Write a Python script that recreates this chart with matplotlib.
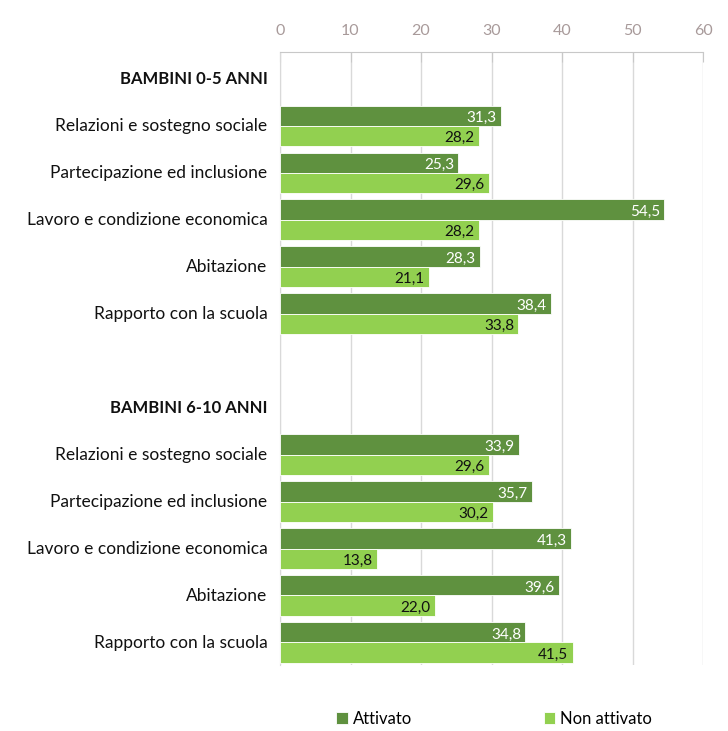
import matplotlib
matplotlib.use("Agg")
import matplotlib.pyplot as plt
import numpy as np

plt.rcParams['font.family'] = ['Lato', 'DejaVu Sans']

groups = ["BAMBINI 0-5 ANNI", "BAMBINI 6-10 ANNI"]
categories = [
    "Relazioni e sostegno sociale",
    "Partecipazione ed inclusione",
    "Lavoro e condizione economica",
    "Abitazione",
    "Rapporto con la scuola",
]
attivato_0_5 = [31.3, 25.3, 54.5, 28.3, 38.4]
non_attivato_0_5 = [28.2, 29.6, 28.2, 21.1, 33.8]
attivato_6_10 = [33.9, 35.7, 41.3, 39.6, 34.8]
non_attivato_6_10 = [29.6, 30.2, 13.8, 22.0, 41.5]
series_names = ["Attivato", "Non attivato"]
x_ticks = [0, 10, 20, 30, 40, 50, 60]

dark = "#5F913F"
light = "#92D050"

fig = plt.figure(figsize=(7.28, 7.31), dpi=100)
ax = fig.add_axes([280 / 728, 1 - 665 / 731, (703 - 280) / 728, (665 - 52) / 731])

# row layout: header, 5 categories, blank row, header, 5 categories
labels = []
rows_att, rows_non, rows_pos = [], [], []
pos = 0
for g, (att, non) in enumerate([(attivato_0_5, non_attivato_0_5),
                                 (attivato_6_10, non_attivato_6_10)]):
    labels.append((pos, groups[g], True))
    pos += 1
    for c, a, n in zip(categories, att, non):
        labels.append((pos, c, False))
        rows_pos.append(pos)
        rows_att.append(a)
        rows_non.append(n)
        pos += 1
    pos += 1

rows_pos = np.array(rows_pos, dtype=float)
h = 0.43
off = 0.02
ax.barh(rows_pos - h / 2 + off, rows_att, height=h, color=dark,
        edgecolor="white", linewidth=0.6, zorder=3, label=series_names[0])
ax.barh(rows_pos + h / 2 + off, rows_non, height=h, color=light,
        edgecolor="white", linewidth=0.6, zorder=3, label=series_names[1])

def fmt(v):
    return f"{v:.1f}".replace(".", ",")

for y, a, n in zip(rows_pos, rows_att, rows_non):
    ax.text(a - 0.6, y - h / 2 + off + 0.05, fmt(a), ha="right", va="center",
            color="white", fontsize=11, zorder=4)
    ax.text(n - 0.6, y + h / 2 + off + 0.05, fmt(n), ha="right", va="center",
            color="#111111", fontsize=11, zorder=4)

ax.set_xlim(0, 60)
ax.set_ylim(12.5, -0.55)
ax.set_yticks([p for p, _, _ in labels])
ax.set_yticklabels([t for _, t, _ in labels])
for tl, (_, _, bold) in zip(ax.get_yticklabels(), labels):
    tl.set_fontsize(12.5)
    tl.set_color("#111111")
    if bold:
        tl.set_fontweight("bold")
        tl.set_fontsize(12)
ax.tick_params(axis="y", length=0, pad=9)

ax.xaxis.tick_top()
ax.set_xticks(x_ticks)
ax.tick_params(axis="x", direction="in", length=7, color="#c8c8c8",
               labelcolor="#a89a9a", labelsize=11.5, pad=10)
ax.grid(axis="x", color="#d9d9d9", linewidth=1, zorder=0)

for side in ["right", "bottom"]:
    ax.spines[side].set_visible(False)
ax.spines["top"].set_color("#c8c8c8")
ax.spines["left"].set_color("#d9d9d9")

handles, lbls = ax.get_legend_handles_labels()
fig.legend(handles, lbls, loc="center", bbox_to_anchor=(494 / 728, 1 - 719 / 731),
           ncol=2, frameon=False, fontsize=12, handlelength=0.7,
           handleheight=0.7, handletextpad=0.3, columnspacing=7.9)

fig.savefig("out.png", dpi=100)
